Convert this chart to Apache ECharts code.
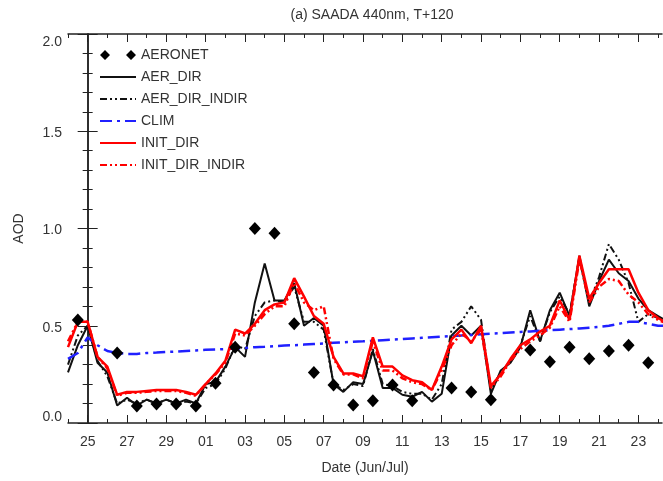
<!DOCTYPE html>
<html>
<head>
<meta charset="utf-8">
<script src="https://cdn.jsdelivr.net/npm/echarts@6/dist/echarts.min.js"></script>
<style>
html,body{margin:0;padding:0;background:#fff;}
#chart{width:663px;height:481px;}
</style>
</head>
<body>
<div id="chart"></div>
<script>
// days since 25 Jun 00:00, every 12 h
var times = [-1,-0.5,0,0.5,1,1.5,2,2.5,3,3.5,
	4,4.5,5,5.5,6,6.5,7,7.5,8,8.5,
	9,9.5,10,10.5,11,11.5,12,12.5,13,13.5,
	14,14.5,15,15.5,16,16.5,17,17.5,18,18.5,
	19,19.5,20,20.5,21,21.5,22,22.5,23,23.5,
	24,24.5,25,25.5,26,26.5,27,27.5,28,28.5,
	29,29.5];
var aerDir = [0.26,0.40,0.50,0.31,0.26,0.09,0.13,0.09,0.12,0.10,
	0.12,0.10,0.12,0.10,0.20,0.21,0.29,0.39,0.34,0.62,
	0.82,0.63,0.63,0.72,0.50,0.54,0.50,0.20,0.16,0.21,
	0.20,0.37,0.18,0.18,0.145,0.135,0.16,0.11,0.15,0.45,
	0.50,0.45,0.50,0.15,0.27,0.31,0.39,0.58,0.42,0.58,
	0.67,0.55,0.86,0.60,0.73,0.84,0.77,0.73,0.64,0.58,
	0.55,0.52];
var aerDirIndir = [0.30,0.45,0.50,0.32,0.24,0.10,0.12,0.10,0.12,0.10,
	0.12,0.10,0.11,0.10,0.18,0.20,0.28,0.40,0.38,0.55,
	0.62,0.63,0.62,0.70,0.52,0.52,0.48,0.20,0.17,0.20,
	0.19,0.38,0.20,0.19,0.16,0.15,0.15,0.12,0.20,0.48,
	0.52,0.60,0.53,0.17,0.26,0.32,0.40,0.55,0.42,0.57,
	0.65,0.56,0.85,0.62,0.75,0.92,0.84,0.72,0.52,0.56,
	0.54,0.52];
var clim = [0.33,0.36,0.44,0.40,0.37,0.36,0.355,0.355,0.36,0.362,
	0.365,0.367,0.37,0.373,0.376,0.378,0.38,0.383,0.386,0.39,
	0.392,0.395,0.398,0.40,0.403,0.406,0.409,0.412,0.415,0.418,
	0.42,0.423,0.426,0.429,0.432,0.435,0.438,0.441,0.444,0.447,
	0.45,0.453,0.456,0.459,0.462,0.465,0.468,0.471,0.474,0.477,
	0.48,0.483,0.486,0.49,0.494,0.50,0.51,0.52,0.52,0.51,
	0.50,0.50];
var initDir = [0.39,0.52,0.52,0.34,0.29,0.145,0.16,0.16,0.165,0.17,
	0.17,0.17,0.16,0.145,0.20,0.255,0.32,0.48,0.46,0.51,
	0.58,0.61,0.62,0.745,0.65,0.55,0.51,0.34,0.255,0.255,
	0.24,0.44,0.29,0.29,0.245,0.22,0.21,0.17,0.29,0.43,
	0.48,0.41,0.50,0.19,0.25,0.33,0.40,0.43,0.47,0.50,
	0.63,0.53,0.86,0.64,0.72,0.79,0.79,0.79,0.67,0.58,
	0.54,0.51];
var initDirIndir = [0.42,0.52,0.52,0.34,0.28,0.14,0.155,0.155,0.16,0.165,
	0.165,0.165,0.155,0.14,0.20,0.25,0.31,0.46,0.45,0.50,
	0.56,0.60,0.60,0.72,0.62,0.58,0.60,0.33,0.25,0.25,
	0.23,0.42,0.27,0.27,0.23,0.21,0.20,0.17,0.27,0.40,
	0.46,0.42,0.48,0.18,0.24,0.32,0.38,0.42,0.45,0.49,
	0.60,0.52,0.84,0.62,0.70,0.74,0.73,0.66,0.62,0.56,
	0.53,0.51];
// AERONET daily means (noon)
var aeronetDay = [-0.5,1.5,2.5,3.5,4.5,5.5,6.5,7.5,8.5,9.5,10.5,11.5,12.5,13.5,
	14.5,15.5,16.5,18.5,19.5,20.5,22.5,23.5,24.5,25.5,26.5,27.5,28.5];
var aeronetAod = [0.53,0.36,0.087,0.098,0.098,0.087,0.204,0.39,1.00,0.975,0.51,0.26,0.195,0.093,
	0.115,0.195,0.115,0.18,0.16,0.12,0.375,0.315,0.39,0.33,0.37,0.40,0.31];
// x tick labels
var tickDays = [0,2,4,6,8,10,12,14,16,18,20,22,24,26,28];
var tickLabels = ['25','27','29','01','03','05','07','09','11','13','15','17','19','21','23'];
var minorDays = [-1,1,3,5,7,9,11,13,15,17,19,21,23,25,27,29];

function pairs(xs, ys){
	var out = [];
	for(var i=0;i<xs.length;i++){
		out.push([xs[i], ys[i]]);
	}
	return out;
}

var FONT = 'Liberation Sans';
var AXIS_COLOR = '#222';
var TEXT_COLOR = '#333';

function xAxisOf(pos, values, len, main){
	return {
		type: 'value', min: -1, max: 29.2, position: pos,
		axisLine: {show: main, lineStyle: {color: AXIS_COLOR, width: 1.5}},
		axisTick: {show: true, inside: true, length: len, customValues: values,
			lineStyle: {color: AXIS_COLOR, width: 1}},
		axisLabel: {show: main && pos == 'bottom', customValues: tickDays, margin: 12,
			color: TEXT_COLOR, fontFamily: FONT, fontSize: 14,
			formatter: function(v){
				var i = tickDays.indexOf(Math.round(v));
				return i >= 0 ? tickLabels[i] : '';
			}},
		splitLine: {show: false},
		name: (main && pos == 'bottom') ? 'Date (Jun/Jul)' : '',
		nameLocation: 'middle', nameGap: 38,
		nameTextStyle: {color: TEXT_COLOR, fontFamily: FONT, fontSize: 14}
	};
}

// IDL keeps the end labels inside the frame, others sit a bit low
function yLabel(v){
	var s = v.toFixed(1);
	if(v == 0) return '{lo|' + s + '}';
	if(v == 2) return '{hi|' + s + '}';
	return '{mid|' + s + '}';
}

function yAxisOf(pos){
	return {
		type: 'value', min: 0, max: 2, interval: 0.5, position: pos,
		axisLine: {show: true, lineStyle: {color: AXIS_COLOR, width: 1.5}},
		axisTick: {show: true, inside: true, length: 10, lineStyle: {color: AXIS_COLOR, width: 1}},
		minorTick: {show: true, splitNumber: 5, length: 5, lineStyle: {color: AXIS_COLOR, width: 1}},
		axisLabel: {show: pos == 'left', margin: 6, color: TEXT_COLOR, fontFamily: FONT, fontSize: 14,
			formatter: yLabel,
			rich: {
				lo: {padding: [0, 0, 12, 0], fontFamily: FONT, fontSize: 14, color: TEXT_COLOR},
				hi: {padding: [16, 0, 0, 0], fontFamily: FONT, fontSize: 14, color: TEXT_COLOR},
				mid: {padding: [4, 0, 0, 0], fontFamily: FONT, fontSize: 14, color: TEXT_COLOR}
			}},
		splitLine: {show: false},
		minorSplitLine: {show: false},
		name: pos == 'left' ? 'AOD' : '',
		nameLocation: 'middle', nameGap: 42, nameRotate: 90,
		nameTextStyle: {color: TEXT_COLOR, fontFamily: FONT, fontSize: 14}
	};
}

function lineSeries(name, data, color, width, dash){
	return {
		name: name, type: 'line', data: pairs(times, data),
		symbol: 'none', showSymbol: false, clip: true,
		lineStyle: {color: color, width: width, type: dash || 'solid'},
		itemStyle: {color: color}
	};
}

var dashDotDot = [7,3,2,3,2,3];
var dashDot = [12,5,3,5];

var chart = echarts.init(document.getElementById('chart'), null, {renderer: 'canvas'});
chart.setOption({
	animation: false,
	backgroundColor: '#fff',
	title: {
		text: '(a) SAADA 440nm, T+120',
		left: 367, textAlign: 'center', top: 3,
		textStyle: {color: TEXT_COLOR, fontFamily: FONT, fontSize: 14, fontWeight: 'normal'}
	},
	grid: {left: 68, right: 1, top: 34, bottom: 58, containLabel: false},
	legend: {
		orient: 'vertical', left: 94, top: 43,
		itemWidth: 36, itemHeight: 11, itemGap: 8, itemTextGap: 11,
		itemStyle: {opacity: 0},
		textStyle: {color: TEXT_COLOR, fontFamily: FONT, fontSize: 14, lineHeight: 14},
		data: [
			{name: 'AERONET', icon: 'path://M0,5L5,0L10,5L5,10Z M26,5L31,0L36,5L31,10Z',
				itemStyle: {opacity: 1, color: '#000'}},
			'AER_DIR', 'AER_DIR_INDIR', 'CLIM', 'INIT_DIR', 'INIT_DIR_INDIR'
		]
	},
	xAxis: [
		xAxisOf('bottom', tickDays, 8, true),
		xAxisOf('bottom', minorDays, 4, false),
		xAxisOf('top', tickDays, 8, true),
		xAxisOf('top', minorDays, 4, false)
	],
	yAxis: [yAxisOf('left'), yAxisOf('right')],
	series: [
		{
			name: 'AERONET', type: 'scatter', data: pairs(aeronetDay, aeronetAod),
			symbol: 'diamond', symbolSize: [12, 13],
			itemStyle: {color: '#000', opacity: 1}, z: 5
		},
		lineSeries('AER_DIR', aerDir, '#111', 2),
		lineSeries('AER_DIR_INDIR', aerDirIndir, '#111', 2, dashDotDot),
		lineSeries('CLIM', clim, '#2020ff', 2.5, dashDot),
		lineSeries('INIT_DIR', initDir, '#ff0000', 2.5),
		lineSeries('INIT_DIR_INDIR', initDirIndir, '#ff0000', 2.5, dashDotDot)
	]
});
</script>
</body>
</html>
